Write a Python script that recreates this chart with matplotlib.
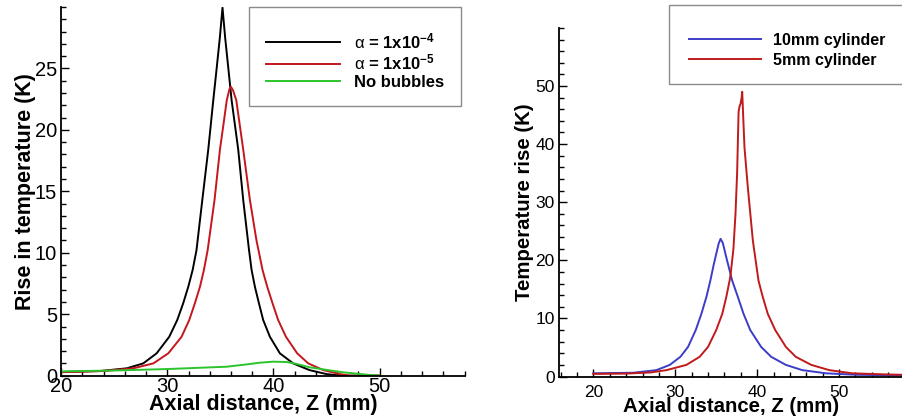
import numpy as np
import matplotlib
matplotlib.use('Agg')
import matplotlib.pyplot as plt
from matplotlib.ticker import MultipleLocator
from matplotlib.patches import Rectangle

# fonts: Arial-like
plt.rcParams['font.family'] = 'Liberation Sans'
plt.rcParams['mathtext.fontset'] = 'custom'
plt.rcParams['mathtext.rm'] = 'Liberation Sans'
plt.rcParams['mathtext.it'] = 'Liberation Sans'
plt.rcParams['mathtext.bf'] = 'Liberation Sans:bold'

# Left panel - bubble concentration
z_a4 = [20, 23.7, 26.2, 27.74, 29.0, 30.19, 30.94, 31.5, 31.98, 32.39, 32.75, 33.3, 33.86, 34.33, 34.65, 34.95,
        35.2, 35.45, 35.75, 36.06, 36.68, 37.15, 37.7, 37.94, 38.25, 38.63, 39.03, 39.66, 40.6, 41.85, 43.4,
        45.0, 46.3, 50]
T_a4 = [0.3, 0.38, 0.6, 1.0, 1.82, 3.17, 4.53, 5.89, 7.24, 8.6, 10.2, 14.3, 18.4, 22.4, 25.0, 27.5,
        29.95, 27.5, 25.0, 22.4, 18.4, 14.3, 10.2, 8.6, 7.24, 5.89, 4.53, 3.17, 1.82, 1.0, 0.45,
        0.13, 0.0, 0.0]

z_a5 = [20, 24.0, 26.8, 28.69, 30.1, 31.35, 32.07, 32.6, 33.08, 33.45, 33.8, 34.45, 34.96, 35.3, 35.6, 35.85,
        36.0, 36.2, 36.5, 37.15, 37.78, 38.4, 38.97, 39.41, 39.91, 40.44, 41.17, 42.23, 43.27, 44.7, 46.25,
        47.2, 50]
T_a5 = [0.28, 0.38, 0.6, 1.0, 1.82, 3.17, 4.53, 5.89, 7.24, 8.6, 10.2, 14.3, 18.4, 20.5, 22.4, 23.3,
        23.5, 23.2, 22.4, 18.4, 14.3, 11.0, 8.6, 7.24, 5.89, 4.53, 3.17, 1.82, 1.0, 0.45, 0.13,
        0.0, 0.0]

z_nb = [20, 25, 30, 35.6, 37.5, 38.75, 40, 41.25, 42.2, 43.4, 45, 46.5, 48.1, 49.2, 50]
T_nb = [0.35, 0.42, 0.54, 0.73, 0.92, 1.06, 1.14, 1.11, 0.95, 0.68, 0.47, 0.28, 0.14, 0.05, 0.0]

labels_left = [r'$\alpha$ = 1x10$^{\mathbf{-4}}$', r'$\alpha$ = 1x10$^{\mathbf{-5}}$', 'No bubbles']

# Right panel - cylinder size
z_10 = [20, 24.9, 27.7, 29.33, 30.63, 31.56, 32.5, 33.19, 33.8, 34.28, 34.7, 35.0, 35.3, 35.53, 35.8, 36.23,
        36.95, 37.64, 38.33, 39.15, 40.48, 41.7, 43.5, 45.5, 48.4, 52, 57.8]
T_10 = [0.55, 0.65, 1.1, 2.0, 3.4, 5.1, 8.0, 10.8, 13.7, 16.5, 19.3, 21.1, 22.9, 23.7, 23.0, 20.5,
        16.5, 13.7, 10.8, 8.0, 5.1, 3.4, 2.0, 1.1, 0.55, 0.3, 0.2]

z_5 = [20, 24, 27, 28.93, 31.36, 32.98, 34.0, 35.0, 35.74, 36.23, 36.63, 36.75, 37.1, 37.35, 37.55, 37.73,
       37.85, 37.98, 38.1, 38.17, 38.3, 38.45, 38.86, 39.47, 40.16, 40.68, 41.29, 42.2, 43.5, 44.7, 46.6,
       48.8, 51.6, 56, 57.8]
T_5 = [0.45, 0.5, 0.7, 1.1, 2.0, 3.4, 5.1, 8.0, 10.8, 13.7, 16.5, 17.5, 22.0, 28.0, 35.0, 45.6,
       46.5, 47.0, 48.0, 49.0, 44.5, 39.4, 32.5, 23.4, 16.5, 13.7, 10.8, 8.0, 5.1, 3.4, 2.0,
       1.1, 0.55, 0.35, 0.3]

labels_right = ['10mm cylinder', '5mm cylinder']

fig = plt.figure(figsize=(9.03, 4.19), dpi=100)
ax1 = fig.add_axes([0.0676, 0.1034, 0.447, 0.88])
ax2 = fig.add_axes([0.619, 0.1014, 0.381, 0.832])


def style_axes(ax, fs):
    for s in ['top', 'right']:
        ax.spines[s].set_visible(False)
    for s in ['left', 'bottom']:
        ax.spines[s].set_linewidth(1.3)
    ax.tick_params(which='both', direction='in', width=1.0, labelsize=fs)
    ax.tick_params(which='major', length=6)
    ax.tick_params(which='minor', length=3.5)
    ax.xaxis.set_minor_locator(MultipleLocator(2))


# left
l1, = ax1.plot(z_a4, T_a4, color='black', lw=1.4)
l2, = ax1.plot(z_a5, T_a5, color='#c4161c', lw=1.4)
l3, = ax1.plot(z_nb, T_nb, color='#2cc42c', lw=1.4)
ax1.set_xlim(20, 58)
ax1.set_ylim(0, 30)
ax1.set_xticks([20, 30, 40, 50])
ax1.set_yticks([0, 5, 10, 15, 20, 25])
ax1.yaxis.set_minor_locator(MultipleLocator(1))
style_axes(ax1, 14.5)
ax1.tick_params(axis='x', pad=1)
ax1.tick_params(axis='y', pad=3)
ax1.set_xlabel('Axial distance, Z (mm)', fontsize=15.5, fontweight='bold')
ax1.set_ylabel('Rise in temperature (K)', fontsize=15.5, fontweight='bold')
ax1.xaxis.set_label_coords(0.5, -0.05)
ax1.yaxis.set_label_coords(-0.062, 0.5)

fig.add_artist(Rectangle((249 / 903, 1 - 106 / 419), 212 / 903, 99 / 419, transform=fig.transFigure,
                         fill=False, edgecolor='#8a8a8a', lw=1.0))
leg1 = ax1.legend([l1, l2, l3], labels_left, loc='upper left', frameon=False,
                  bbox_to_anchor=(266 / 903, 1 - 31 / 419), bbox_transform=fig.transFigure,
                  borderpad=0, borderaxespad=0, handlelength=4.45, handletextpad=0.8,
                  labelspacing=0.12, prop={'weight': 'bold', 'size': 12})

# right
m1, = ax2.plot(z_10, T_10, color='#3c3cc8', lw=1.4)
m2, = ax2.plot(z_5, T_5, color='#c01a1a', lw=1.4)
ax2.set_xlim(15.8, 57.8)
ax2.set_ylim(0, 60)
ax2.set_xticks([20, 30, 40, 50])
ax2.set_yticks([0, 10, 20, 30, 40, 50])
ax2.yaxis.set_minor_locator(MultipleLocator(2))
style_axes(ax2, 12.5)
ax2.tick_params(axis='x', pad=6)
ax2.tick_params(axis='y', pad=3)
ax2.set_xlabel('Axial distance, Z (mm)', fontsize=14.7, fontweight='bold')
ax2.set_ylabel('Temperature rise (K)', fontsize=14.7, fontweight='bold')
ax2.xaxis.set_label_coords(0.5, -0.06)
ax2.yaxis.set_label_coords(-0.072, 0.5)

fig.add_artist(Rectangle((669 / 903, 1 - 84 / 419), 240 / 903, 79 / 419, transform=fig.transFigure,
                         fill=False, edgecolor='#8a8a8a', lw=1.0))
leg2 = ax2.legend([m1, m2], labels_right, loc='upper left', frameon=False,
                  bbox_to_anchor=(689 / 903, 1 - 33 / 419), bbox_transform=fig.transFigure,
                  borderpad=0, borderaxespad=0, handlelength=4.5, handletextpad=0.75,
                  labelspacing=0.3, prop={'weight': 'bold', 'size': 11.5})

fig.savefig('out.png', dpi=100)
